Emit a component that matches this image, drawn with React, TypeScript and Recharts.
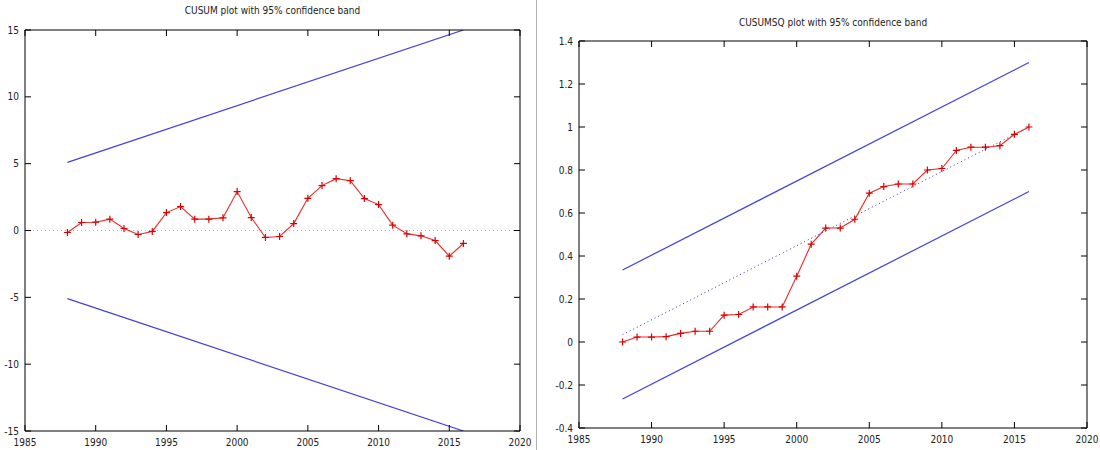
import { LineChart, Line, XAxis, YAxis, ReferenceLine } from 'recharts'

const years = [
  1988, 1989, 1990, 1991, 1992, 1993, 1994, 1995, 1996, 1997, 1998, 1999, 2000, 2001, 2002,
  2003, 2004, 2005, 2006, 2007, 2008, 2009, 2010, 2011, 2012, 2013, 2014, 2015, 2016,
]

const cusum = [
  -0.15, 0.6, 0.62, 0.85, 0.15, -0.3, -0.07, 1.34, 1.79, 0.85, 0.85, 0.95, 2.91, 0.97, -0.52,
  -0.45, 0.52, 2.41, 3.36, 3.88, 3.73, 2.39, 1.94, 0.4, -0.25, -0.4, -0.75, -1.92, -0.97,
]

const cusumsq = [
  0, 0.023, 0.023, 0.025, 0.04, 0.05, 0.05, 0.125, 0.128, 0.163, 0.163, 0.163, 0.306, 0.455, 0.53,
  0.53, 0.571, 0.692, 0.723, 0.735, 0.735, 0.8, 0.807, 0.891, 0.906, 0.906, 0.913, 0.966, 1.0,
]

// the bands and the expected line are straight, so only their end points are kept
const bandYears = [1988, 2016]
const cusumUpper = [5.1, 15.0]
const cusumLower = [-5.1, -15.0]
const sqUpper = [0.335, 1.3]
const sqLower = [-0.265, 0.7]
const sqExpected = [0.034, 1.0]

const xTicks = [1985, 1990, 1995, 2000, 2005, 2010, 2015, 2020]
const cusumTicks = [-15, -10, -5, 0, 5, 10, 15]
const sqTicks = [-0.4, -0.2, 0, 0.2, 0.4, 0.6, 0.8, 1, 1.2, 1.4]

const rows = (values: number[], xs: number[] = years) => xs.map((year, i) => ({ year, v: values[i] }))

const FONT = "'DejaVu Sans Condensed', 'DejaVu Sans', sans-serif"
const RED = '#ea2a2a'
const BLUE = '#4040dd'
const TICK = 6

const BottomTick = (p: any) => (
  <g>
    <line x1={p.x} x2={p.x} y1={p.y} y2={p.y - TICK} stroke="#000" />
    <text x={p.x} y={p.y + 15} textAnchor="middle" fontSize={10} fontFamily={FONT} fill="#222">
      {p.payload.value}
    </text>
  </g>
)
const TopTick = (p: any) => <line x1={p.x} x2={p.x} y1={p.y} y2={p.y + TICK} stroke="#000" />
const LeftTick = (p: any) => (
  <g>
    <line x1={p.x} x2={p.x + TICK} y1={p.y} y2={p.y} stroke="#000" />
    <text x={p.x - 6} y={p.y} dy="0.35em" textAnchor="end" fontSize={10} fontFamily={FONT} fill="#222">
      {String(p.payload.value)}
    </text>
  </g>
)
const RightTick = (p: any) => <line x1={p.x} x2={p.x - TICK} y1={p.y} y2={p.y} stroke="#000" />

const plus = (props: any) => {
  const { cx, cy, index } = props
  return (
    <path
      key={index}
      d={`M${cx - 3.5},${cy}H${cx + 3.5}M${cx},${cy - 3.5}V${cy + 3.5}`}
      stroke="#dd0000"
      strokeWidth={1.2}
      fill="none"
    />
  )
}

const axisLine = { stroke: '#000' }

function Frame({ yDomain, yTicks, top, bottom, left, right }: any) {
  return [
    <XAxis
      key="xb"
      dataKey="year"
      type="number"
      domain={[1985, 2020]}
      ticks={xTicks}
      interval={0}
      height={bottom}
      tickSize={0}
      tickMargin={0}
      tickLine={false}
      axisLine={axisLine}
      tick={(p: any) => <BottomTick {...p} />}
      allowDataOverflow
    />,
    <XAxis
      key="xt"
      xAxisId="top"
      orientation="top"
      dataKey="year"
      type="number"
      domain={[1985, 2020]}
      ticks={xTicks}
      interval={0}
      height={top}
      tickSize={0}
      tickMargin={0}
      tickLine={false}
      axisLine={axisLine}
      tick={(p: any) => <TopTick {...p} />}
      allowDataOverflow
    />,
    <YAxis
      key="yl"
      type="number"
      domain={yDomain}
      ticks={yTicks}
      interval={0}
      width={left}
      tickSize={0}
      tickMargin={0}
      tickLine={false}
      axisLine={axisLine}
      tick={(p: any) => <LeftTick {...p} />}
      allowDataOverflow
    />,
    <YAxis
      key="yr"
      yAxisId="right"
      orientation="right"
      type="number"
      domain={yDomain}
      ticks={yTicks}
      interval={0}
      width={right}
      tickSize={0}
      tickMargin={0}
      tickLine={false}
      axisLine={axisLine}
      tick={(p: any) => <RightTick {...p} />}
      allowDataOverflow
    />,
  ]
}

const titleStyle = (left: number, width: number, top: number): React.CSSProperties => ({
  position: 'absolute',
  left,
  width,
  top,
  textAlign: 'center',
  fontFamily: FONT,
  fontSize: 10,
  color: '#222',
  lineHeight: '12px',
})

export default function App() {
  return (
    <div style={{ position: 'absolute', left: 0, top: 0, width: 1100, height: 450, background: '#fff', overflow: 'hidden' }}>
      <div style={titleStyle(25, 495, 5)}>CUSUM plot with 95% confidence band</div>
      <div style={{ position: 'absolute', left: 0, top: 0 }}>
        <LineChart width={537} height={450} margin={{ top: 0, right: 0, bottom: 0, left: 0 }}>
          {Frame({ yDomain: [-15, 15], yTicks: cusumTicks, top: 30, bottom: 19, left: 25, right: 17 })}
          <ReferenceLine y={0} stroke="#b0b0b0" strokeDasharray="1 3" />
          <Line data={rows(cusumUpper, bandYears)} dataKey="v" stroke={BLUE} strokeWidth={1.2} dot={false} activeDot={false} isAnimationActive={false} />
          <Line data={rows(cusumLower, bandYears)} dataKey="v" stroke={BLUE} strokeWidth={1.2} dot={false} activeDot={false} isAnimationActive={false} />
          <Line data={rows(cusum)} dataKey="v" stroke={RED} strokeWidth={1.1} dot={plus} activeDot={false} isAnimationActive={false} />
        </LineChart>
      </div>
      <div style={{ position: 'absolute', left: 536, top: 0, width: 1, height: 450, background: '#b4b4b4' }} />
      <div style={titleStyle(579, 508, 17)}>CUSUMSQ plot with 95% confidence band</div>
      <div style={{ position: 'absolute', left: 537, top: 0 }}>
        <LineChart width={563} height={450} margin={{ top: 0, right: 0, bottom: 0, left: 0 }}>
          {Frame({ yDomain: [-0.4, 1.4], yTicks: sqTicks, top: 41, bottom: 22, left: 42, right: 13 })}
          <Line data={rows(sqUpper, bandYears)} dataKey="v" stroke={BLUE} strokeWidth={1.2} dot={false} activeDot={false} isAnimationActive={false} />
          <Line data={rows(sqLower, bandYears)} dataKey="v" stroke={BLUE} strokeWidth={1.2} dot={false} activeDot={false} isAnimationActive={false} />
          <Line data={rows(sqExpected, bandYears)} dataKey="v" stroke="#3030c0" strokeWidth={1} strokeDasharray="1 3" dot={false} activeDot={false} isAnimationActive={false} />
          <Line data={rows(cusumsq)} dataKey="v" stroke={RED} strokeWidth={1.1} dot={plus} activeDot={false} isAnimationActive={false} />
        </LineChart>
      </div>
    </div>
  )
}
